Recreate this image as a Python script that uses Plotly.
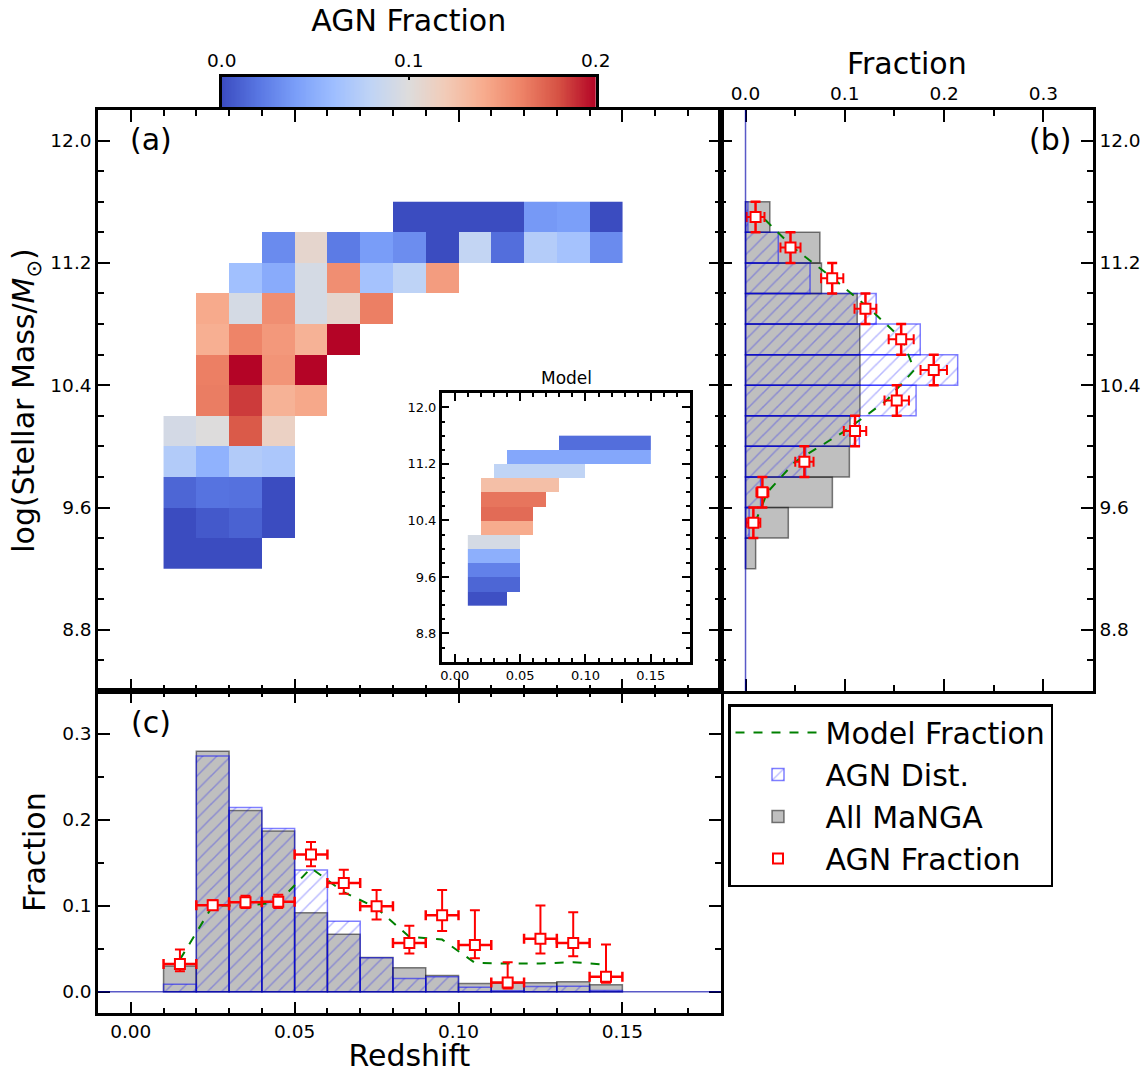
import numpy as np
import plotly.graph_objects as go

W, H = 1148, 1073
FONT = "DejaVu Sans"

# ---------------------------------------------------------------- data
# redshift bin centres (bin width 0.01) and stellar-mass bin centres (0.2 dex)
z_centers = [0.015, 0.025, 0.035, 0.045, 0.055, 0.065, 0.075,
             0.085, 0.095, 0.105, 0.115, 0.125, 0.135, 0.145]
mass_centers = [9.3, 9.5, 9.7, 9.9, 10.1, 10.3, 10.5, 10.7, 10.9, 11.1, 11.3, 11.5]

N = None
# (a) observed AGN fraction in each (mass, redshift) cell, rows follow mass_centers
agn_frac_grid = [
    [0.0, 0.0, 0.0, N, N, N, N, N, N, N, N, N, N, N],
    [0.0, 0.006, 0.010, 0.0, N, N, N, N, N, N, N, N, N, N],
    [0.012, 0.018, 0.017, 0.0, N, N, N, N, N, N, N, N, N, N],
    [0.072, 0.052, 0.072, 0.068, N, N, N, N, N, N, N, N, N, N],
    [0.093, 0.100, 0.177, 0.113, N, N, N, N, N, N, N, N, N, N],
    [N, 0.163, 0.186, 0.136, 0.142, N, N, N, N, N, N, N, N, N],
    [N, 0.162, 0.200, 0.152, 0.200, N, N, N, N, N, N, N, N, N],
    [N, 0.138, 0.160, 0.150, 0.136, 0.200, N, N, N, N, N, N, N, N],
    [N, 0.141, 0.094, 0.155, 0.094, 0.108, 0.162, N, N, N, N, N, N, N],
    [N, N, 0.062, 0.048, 0.094, 0.155, 0.064, 0.079, 0.148, N, N, N, N, N],
    [N, N, N, 0.030, 0.108, 0.022, 0.039, 0.031, 0.0, 0.082, 0.016, 0.073, 0.064, 0.030],
    [N, N, N, N, N, N, N, 0.0, 0.0, 0.0, 0.0, 0.037, 0.040, 0.0],
]

# inset: model AGN fraction per mass bin and the redshift span it covers
model_mass_frac = [0.002, 0.012, 0.025, 0.050, 0.094, 0.140, 0.170, 0.166, 0.128, 0.080, 0.045, 0.016]
model_z_lo = [0.01, 0.01, 0.01, 0.01, 0.01, 0.02, 0.02, 0.02, 0.02, 0.03, 0.04, 0.08]
model_z_hi = [0.04, 0.05, 0.05, 0.05, 0.05, 0.06, 0.06, 0.07, 0.08, 0.10, 0.15, 0.15]

# (b) distributions in stellar mass
all_mass_dist = [0.0102, 0.0431, 0.0875, 0.1046, 0.1053, 0.1153,
                 0.1153, 0.1151, 0.1125, 0.0765, 0.0749, 0.0245]
agn_mass_dist = [0.0, 0.0036, 0.0152, 0.0606, 0.1147, 0.1718,
                 0.2137, 0.1760, 0.1316, 0.0650, 0.0330, 0.0024]
frac_mass_centers = [9.5, 9.7, 9.9, 10.1, 10.3, 10.5, 10.7, 10.9, 11.1, 11.3, 11.5]
agn_frac_mass = [0.0079, 0.0170, 0.0593, 0.1103, 0.1523, 0.1896,
                 0.1568, 0.1208, 0.0873, 0.0453, 0.0101]
agn_frac_mass_err = [0.0070, 0.0060, 0.0092, 0.0113, 0.0123, 0.0133,
                     0.0126, 0.0110, 0.0112, 0.0101, 0.0090]
model_frac_mass = [0.0096, 0.022, 0.050, 0.100, 0.142, 0.170,
                   0.158, 0.125, 0.088, 0.048, 0.017]
mass_half_width = 0.1

# (c) distributions in redshift
all_z_dist = [0.030, 0.280, 0.211, 0.187, 0.092, 0.067, 0.040,
              0.028, 0.019, 0.0097, 0.010, 0.0105, 0.0116, 0.0081]
agn_z_dist = [0.0089, 0.2745, 0.2145, 0.190, 0.1417, 0.082, 0.0395,
              0.0155, 0.0174, 0.0054, 0.0011, 0.0063, 0.0064, 0.0014]
agn_frac_z = [0.0325, 0.1007, 0.1041, 0.1049, 0.1599, 0.1266, 0.0995,
              0.0569, 0.0890, 0.0546, 0.0108, 0.0616, 0.0569, 0.0174]
agn_frac_z_up = [0.0167, 0.0058, 0.0078, 0.0081, 0.0143, 0.0154, 0.0190,
                 0.0201, 0.0295, 0.0403, 0.0237, 0.0387, 0.0356, 0.0376]
agn_frac_z_dn = [0.0085, 0.0051, 0.0065, 0.0073, 0.0139, 0.0124, 0.0155,
                 0.0124, 0.0182, 0.0156, 0.0069, 0.0171, 0.0155, 0.0069]
model_frac_z = [0.0375, 0.1003, 0.1003, 0.1040, 0.1440, 0.1160, 0.0976,
                0.0639, 0.0608, 0.0337, 0.0329, 0.0329, 0.0345, 0.0314]
z_half_width = 0.005

cbar_ticks = [0.0, 0.1, 0.2]

# ---------------------------------------------------------------- styling
coolwarm = [[0.0, '#3b4cc0'], [0.1, '#5977e3'], [0.2, '#7b9ff9'], [0.3, '#9ebeff'],
            [0.4, '#c0d4f5'], [0.5, '#dddcdc'], [0.6, '#f2cbb7'], [0.7, '#f7ac8e'],
            [0.8, '#ee8468'], [0.9, '#d65244'], [1.0, '#b40426']]

GRAY_FILL = 'rgba(128,128,128,0.5)'
GRAY_EDGE = 'rgba(0,0,0,0.5)'
BLUE = 'rgba(0,0,255,0.5)'
HATCH = 'rgba(0,0,255,0.55)'
RED = '#ff0000'
GREEN = '#008000'
TICK_SIZE = 18.5
TITLE_SIZE = 30


def px_x(a, b):
    return [a / W, b / W]


def px_y(top, bottom):
    return [1 - bottom / H, 1 - top / H]


def axis(domain, rng, dtick, tick0, minor_dtick, fmt, labels=True, size=TICK_SIZE,
         major_len=12, minor_len=6, lw=2.5, **kw):
    d = dict(domain=domain, range=rng, showline=True, linecolor='black',
             linewidth=lw, mirror='allticks', ticks='inside', ticklen=major_len,
             tickwidth=2, tickcolor='black', dtick=dtick, tick0=tick0,
             tickformat=fmt, showticklabels=labels, showgrid=False, zeroline=False,
             automargin=False,
             tickfont=dict(family=FONT, size=size, color='black'),
             minor=dict(ticks='inside', ticklen=minor_len, tickwidth=1.8,
                        tickcolor='black', dtick=minor_dtick, tick0=tick0,
                        showgrid=False))
    d.update(kw)
    return d


fig = go.Figure()

# (a) observed heat map
fig.add_trace(go.Heatmap(x=z_centers, y=mass_centers, z=agn_frac_grid,
                         coloraxis='coloraxis', xaxis='x', yaxis='y',
                         hoverongaps=False))

# inset: model heat map built from each mass bin's redshift span
model_grid = []
for frac, lo, hi in zip(model_mass_frac, model_z_lo, model_z_hi):
    model_grid.append([frac if lo < zc < hi else None for zc in z_centers])
fig.add_trace(go.Heatmap(x=z_centers, y=mass_centers, z=model_grid,
                         coloraxis='coloraxis', xaxis='x4', yaxis='y4',
                         hoverongaps=False))

# colour bar strip
grad = np.linspace(cbar_ticks[0], cbar_ticks[-1], 300)
fig.add_trace(go.Heatmap(x=grad, y=[0], z=[grad], coloraxis='coloraxis',
                         xaxis='x5', yaxis='y5'))

# (b) mass distributions
fig.add_trace(go.Bar(y=mass_centers, x=all_mass_dist, orientation='h', width=0.2,
                     marker=dict(color=GRAY_FILL, line=dict(color=GRAY_EDGE, width=1.5)),
                     xaxis='x2', yaxis='y2', showlegend=False))
fig.add_trace(go.Bar(y=mass_centers, x=agn_mass_dist, orientation='h', width=0.2,
                     marker=dict(color='rgba(0,0,0,0)', line=dict(color=BLUE, width=1.5),
                                 pattern=dict(shape='/', fgcolor=HATCH, size=10,
                                              solidity=0.15, fillmode='overlay')),
                     xaxis='x2', yaxis='y2', showlegend=False))
fig.add_trace(go.Scatter(x=model_frac_mass, y=frac_mass_centers, mode='lines',
                         line=dict(color=GREEN, width=2, dash='dash'),
                         xaxis='x2', yaxis='y2', showlegend=False))
fig.add_trace(go.Scatter(x=agn_frac_mass, y=frac_mass_centers, mode='markers',
                         marker=dict(symbol='square', size=10, color='white',
                                     line=dict(color=RED, width=2)),
                         error_x=dict(type='data', array=agn_frac_mass_err,
                                      color=RED, thickness=2, width=5),
                         error_y=dict(type='constant', value=mass_half_width,
                                      color=RED, thickness=2.5, width=5),
                         xaxis='x2', yaxis='y2', showlegend=False))

# (c) redshift distributions
fig.add_trace(go.Bar(x=z_centers, y=all_z_dist, width=0.01, name='All MaNGA',
                     marker=dict(color=GRAY_FILL, line=dict(color=GRAY_EDGE, width=1.5)),
                     xaxis='x3', yaxis='y3', legendrank=3, legendgroup='all'))
fig.add_trace(go.Bar(x=z_centers, y=agn_z_dist, width=0.01, name='AGN Dist.',
                     marker=dict(color='rgba(0,0,0,0)', line=dict(color=BLUE, width=1.5),
                                 pattern=dict(shape='/', fgcolor=HATCH, size=10,
                                              solidity=0.15, fillmode='overlay')),
                     xaxis='x3', yaxis='y3', legendrank=2, legendgroup='agn'))
fig.add_trace(go.Scatter(x=z_centers, y=model_frac_z, mode='lines', name='Model Fraction',
                         line=dict(color=GREEN, width=2, dash='dash'),
                         xaxis='x3', yaxis='y3', legendrank=1, legendgroup='model'))
fig.add_trace(go.Scatter(x=z_centers, y=agn_frac_z, mode='markers', name='AGN Fraction',
                         marker=dict(symbol='square', size=10, color='white',
                                     line=dict(color=RED, width=2)),
                         error_x=dict(type='constant', value=z_half_width,
                                      color=RED, thickness=2.5, width=5),
                         error_y=dict(type='data', symmetric=False, array=agn_frac_z_up,
                                      arrayminus=agn_frac_z_dn, color=RED,
                                      thickness=2, width=5),
                         xaxis='x3', yaxis='y3', legendrank=4, legendgroup='frac'))

# empty bins of the step outlines along the zero level
fig.add_shape(type='line', xref='x3 domain', yref='y3', x0=0, x1=1, y0=0, y1=0,
              line=dict(color='rgba(0,0,170,0.65)', width=1.5))
fig.add_shape(type='line', xref='x2', yref='y2 domain', x0=0, x1=0, y0=0, y1=1,
              line=dict(color='rgba(0,0,170,0.65)', width=1.5))

# ---------------------------------------------------------------- layout
dom_a_x = px_x(98, 720.7)
dom_b_x = px_x(720.7, 1093)
dom_top_y = px_y(110, 691)
dom_c_y = px_y(691, 1013.3)

title_font = dict(family=FONT, size=TITLE_SIZE, color='black')

fig.update_layout(
    width=W, height=H, margin=dict(l=0, r=0, t=0, b=0, autoexpand=False),
    paper_bgcolor='white', plot_bgcolor='white', barmode='overlay',
    font=dict(family=FONT, color='black'),
    coloraxis=dict(colorscale=coolwarm, cmin=0.0, cmax=0.2, showscale=False),
    xaxis=axis(dom_a_x, [-0.01, 0.18], 0.05, 0, 0.01, '.2f', labels=False, anchor='y'),
    yaxis=axis(dom_top_y, [8.4, 12.2], 0.8, 8.8, 0.2, '.1f', anchor='x',
               title=dict(text='log(Stellar Mass/<i>M</i><sub>⊙</sub>)',
                          font=title_font, standoff=7)),
    xaxis2=axis(dom_b_x, [-0.025, 0.35], 0.1, 0, 0.05, '.1f', anchor='y2', side='top',
                title=dict(text='Fraction', font=title_font, standoff=0)),
    yaxis2=axis(dom_top_y, [8.4, 12.2], 0.8, 8.8, 0.2, '.1f', anchor='x2', side='right'),
    xaxis3=axis(dom_a_x, [-0.01, 0.18], 0.05, 0, 0.01, '.2f', anchor='y3',
                title=dict(text='Redshift', font=title_font, standoff=6)),
    yaxis3=axis(dom_c_y, [-0.025, 0.35], 0.1, 0, 0.05, '.1f', anchor='x3',
                title=dict(text='Fraction', font=title_font, standoff=8)),
    xaxis4=axis(px_x(441.7, 690), [-0.01, 0.18], 0.05, 0, 0.01, '.2f', size=13,
                major_len=8, minor_len=4, anchor='y4'),
    yaxis4=axis(px_y(393.3, 661.7), [8.4, 12.2], 0.8, 8.8, 0.2, '.1f', size=13,
                major_len=8, minor_len=4, anchor='x4'),
    xaxis5=dict(domain=px_x(221.7, 595.7), range=[cbar_ticks[0], cbar_ticks[-1]],
                anchor='y5', side='top', tickvals=cbar_ticks, tickformat='.1f',
                ticks='inside', ticklen=4, tickwidth=2, tickcolor='black',
                showline=True, linecolor='black', linewidth=2.5, mirror=True,
                showgrid=False, zeroline=False, automargin=False,
                tickfont=dict(family=FONT, size=TICK_SIZE, color='black'),
                title=dict(text='AGN Fraction', font=title_font, standoff=10)),
    yaxis5=dict(domain=px_y(76.7, 107.3), range=[-0.5, 0.5], anchor='x5',
                showticklabels=False, ticks='', showline=True, linecolor='black',
                linewidth=2.5, mirror=True, showgrid=False, zeroline=False,
                automargin=False),
    legend=dict(x=728 / W, y=1 - 704 / H, xanchor='left', yanchor='top',
                bordercolor='black', borderwidth=2.5, bgcolor='white',
                font=dict(family=FONT, size=TITLE_SIZE, color='black'),
                itemwidth=85, traceorder='normal', tracegroupgap=4),
)

panel_labels = [('(a)', 151, 140), ('(b)', 1050, 140), ('(c)', 151, 722)]
for text, px, py in panel_labels:
    fig.add_annotation(text=text, x=px / W, y=1 - py / H, xref='paper', yref='paper',
                       showarrow=False, font=title_font, xanchor='center', yanchor='middle')
fig.add_annotation(text='Model', x=566 / W, y=1 - 378 / H, xref='paper', yref='paper',
                   showarrow=False, font=dict(family=FONT, size=17, color='black'),
                   xanchor='center', yanchor='middle')

fig.write_html('out.html')
